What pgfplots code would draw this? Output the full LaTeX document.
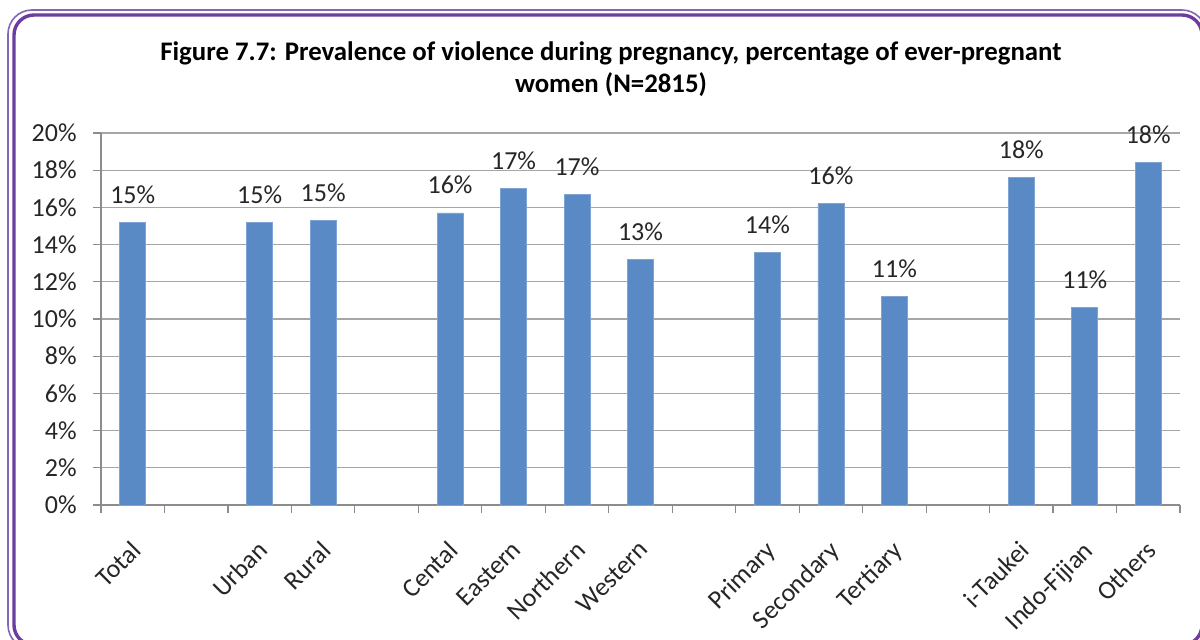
\documentclass[border=0pt]{standalone}
\usepackage{pgfplots}
\pgfplotsset{compat=1.18}
\usepackage{pgfplotstable}
\usepackage{fontspec}
\setmainfont{Carlito}

\definecolor{barblue}{HTML}{5A8AC6}
\definecolor{baredge}{HTML}{7FA4D4}
\definecolor{gridgray}{HTML}{A6A6A6}
\definecolor{axisgray}{HTML}{8C8C8C}
\definecolor{framedark}{HTML}{6A3D9E}
\definecolor{framelight}{HTML}{8466B4}

% prevalence (%) by group; empty slots separate the groups
\pgfplotstableread{
pos value label
0  15.2 Total
2  15.2 Urban
3  15.3 Rural
5  15.7 Cental
6  17.0 Eastern
7  16.7 Northern
8  13.2 Western
10 13.6 Primary
11 16.2 Secondary
12 11.2 Tertiary
14 17.6 i-Taukei
15 10.6 Indo-Fijian
16 18.4 Others
}\prevtable

\begin{document}
\begin{tikzpicture}
\useasboundingbox (0,0) rectangle (600pt,319.5pt);

% rounded double frame
\begin{scope}
\clip (0,0) rectangle (600pt,319.5pt);
\draw[framelight, line width=0.8pt, rounded corners=12pt] (4pt,314.5pt) rectangle (603pt,-5pt);
\draw[framedark, line width=1.7pt, rounded corners=10pt] (7pt,312pt) rectangle (601pt,-3pt);
\end{scope}

% title
\node[anchor=base, font=\fontsize{13.4}{15}\selectfont\bfseries] at (305.5pt,289pt)
  {Figure 7.7: Prevalence of violence during pregnancy, percentage of ever-pregnant};
\node[anchor=base, font=\fontsize{13.4}{15}\selectfont\bfseries] at (305.5pt,273pt)
  {women (N=2815)};

\begin{axis}[
  at={(50.5pt,67pt)}, anchor=south west,
  scale only axis, width=539.5pt, height=186pt,
  clip=false,
  ymin=0, ymax=20, ytick={0,2,...,20},
  xmin=-0.5, xmax=16.5,
  axis x line*=bottom, axis y line*=left,
  axis line style={axisgray, line width=0.6pt},
  tick align=outside,
  major tick length=4pt,
  tick style={axisgray, line width=0.6pt},
  ymajorgrids, grid style={gridgray, line width=0.6pt},
  xtick={-0.5,0.5,...,16.5}, xticklabels={},
  extra x ticks={0,2,3,5,6,7,8,10,11,12,14,15,16},
  extra x tick labels={Total,Urban,Rural,Cental,Eastern,Northern,Western,Primary,Secondary,Tertiary,i-Taukei,Indo-Fijian,Others},
  extra x tick style={major tick length=0pt, grid=none,
    xticklabel style={xshift=-1.5pt, yshift=-17pt, rotate=45, anchor=north east, inner sep=0pt}},
  ticklabel style={font=\fontsize{13}{15}\selectfont, text=black!85},
  /pgf/number format/assume math mode=true,
  yticklabel={\pgfmathprintnumber{\tick}\%},
  yticklabel style={anchor=east, inner sep=0pt, xshift=-8pt},
  ybar, bar width=13pt,
  nodes near coords={\pgfmathprintnumber[fixed,precision=0]{\pgfplotspointmeta}\%},
  every node near coord/.append style={font=\fontsize{13}{15}\selectfont, text=black!85,
    anchor=base, inner sep=0pt, yshift=9.5pt},
]
\addplot[fill=barblue, draw=baredge, line width=0.4pt] table[x=pos, y=value] {\prevtable};
\end{axis}
\end{tikzpicture}
\end{document}
